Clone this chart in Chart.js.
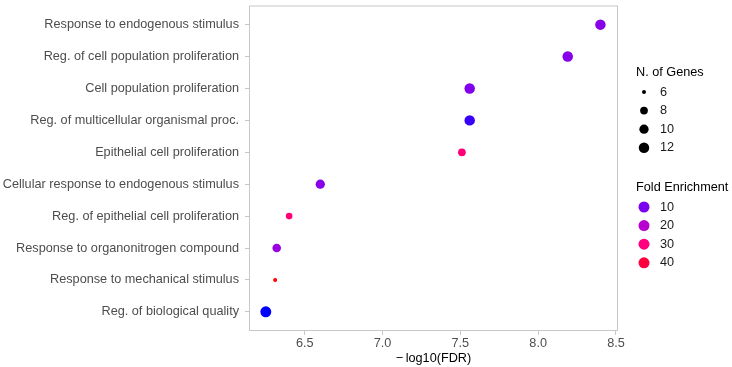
<!DOCTYPE html>
<html>
<head>
<meta charset="utf-8">
<script src="https://cdn.jsdelivr.net/npm/chart.js@4/dist/chart.umd.min.js"></script>
<style>
  html, body { margin: 0; padding: 0; background: #fff; }
  #wrap { width: 732px; height: 367px; }
</style>
</head>
<body>
<div id="wrap"><canvas id="chart" width="732" height="367"></canvas></div>
<script>
// GO terms, top to bottom
const terms = [
    "Response to endogenous stimulus",
    "Reg. of cell population proliferation",
    "Cell population proliferation",
    "Reg. of multicellular organismal proc.",
    "Epithelial cell proliferation",
    "Cellular response to endogenous stimulus",
    "Reg. of epithelial cell proliferation",
    "Response to organonitrogen compound",
    "Response to mechanical stimulus",
    "Reg. of biological quality"
];
const negLogFdr = [8.40, 8.19, 7.56, 7.56, 7.51, 6.60, 6.40, 6.32, 6.31, 6.25];
const nGenes = [12, 12, 12, 12, 8, 10, 7, 9, 6, 13];
const foldEnrichment = [12, 12, 11, 6, 31, 12, 31, 15, 44, 2.5];

const xTicks = [6.5, 7.0, 7.5, 8.0, 8.5];
const sizeLegend = [6, 8, 10, 12];
const colorLegend = [10, 20, 30, 40];

const FONT = "'Liberation Sans', Arial, sans-serif";
const FSIZE = 12.7;

// colour ramp blue -> violet -> pink -> red (position 0..1)
const rampStops = [
    [0, [0, 0, 255]],
    [0.18, [122, 0, 240]],
    [0.42, [184, 0, 208]],
    [0.66, [255, 0, 128]],
    [0.9, [255, 0, 64]],
    [1, [255, 0, 0]]
];
const feMin = Math.min(...foldEnrichment);
const feMax = Math.max(...foldEnrichment);
function feColor(v) {
    const t = Math.min(1, Math.max(0, (v - feMin) / (feMax - feMin)));
    let k = 1;
    while (k < rampStops.length - 1 && rampStops[k][0] < t) k++;
    const [t0, c0] = rampStops[k - 1];
    const [t1, c1] = rampStops[k];
    const f = (t - t0) / (t1 - t0);
    return "rgb(" + c0.map((c, i) => Math.round(c + (c1[i] - c) * f)).join(",") + ")";
}

const gMin = Math.min(...nGenes);
const gMax = Math.max(...nGenes);
function geneRadius(n) {
    return 2 + 3.5 * Math.sqrt((n - gMin) / (gMax - gMin));
}

const points = terms.map((t, i) => ({
    x: negLogFdr[i],
    y: i + 1,
    genes: nGenes[i],
    fe: foldEnrichment[i]
}));

const panelAndLegend = {
    id: "panelAndLegend",
    afterDatasetsDraw(chart) {
        const { ctx, chartArea } = chart;
        ctx.save();
        ctx.strokeStyle = "#c8c8c8";
        ctx.lineWidth = 1;
        ctx.strokeRect(chartArea.left + 0.5, chartArea.top + 0.5,
            chartArea.right - chartArea.left - 1, chartArea.bottom - chartArea.top - 1);

        ctx.textBaseline = "middle";
        ctx.textAlign = "left";
        ctx.fillStyle = "#000";
        ctx.font = FSIZE + "px " + FONT;
        ctx.fillText("N. of Genes", 636, 72);
        sizeLegend.forEach((n, i) => {
            const y = 92 + i * 18.6;
            ctx.fillStyle = "#000";
            ctx.beginPath();
            ctx.arc(644, y, geneRadius(n), 0, Math.PI * 2);
            ctx.fill();
            ctx.fillStyle = "#1a1a1a";
            ctx.fillText(String(n), 660, y);
        });

        ctx.fillStyle = "#000";
        ctx.fillText("Fold Enrichment", 636, 187);
        colorLegend.forEach((v, i) => {
            const y = 207 + i * 18.6;
            ctx.fillStyle = feColor(v);
            ctx.beginPath();
            ctx.arc(644, y, 5.5, 0, Math.PI * 2);
            ctx.fill();
            ctx.fillStyle = "#1a1a1a";
            ctx.fillText(String(v), 660, y);
        });
        ctx.restore();
    }
};

new Chart(document.getElementById("chart"), {
    type: "scatter",
    data: {
        datasets: [{
            data: points,
            pointRadius: c => geneRadius(c.raw.genes),
            pointHoverRadius: c => geneRadius(c.raw.genes),
            pointBackgroundColor: c => feColor(c.raw.fe),
            pointBorderWidth: 0,
            pointBorderColor: "rgba(0,0,0,0)"
        }]
    },
    options: {
        responsive: false,
        animation: false,
        layout: { padding: { top: 4, right: 114, left: 0, bottom: 0 } },
        plugins: { legend: { display: false }, tooltip: { enabled: false } },
        scales: {
            x: {
                type: "linear",
                min: 6.142,
                max: 8.513,
                afterBuildTicks: s => { s.ticks = xTicks.map(v => ({ value: v })); },
                afterFit: s => { s.height = 36; s.paddingLeft = 0; s.paddingRight = 0; },
                grid: { drawOnChartArea: false, drawTicks: true, tickLength: 4, color: "#c8c8c8" },
                border: { display: false },
                ticks: {
                    padding: 1,
                    color: "#4d4d4d",
                    font: { family: FONT, size: FSIZE },
                    callback: v => v.toFixed(1)
                },
                title: {
                    display: true,
                    text: "\u2212\u2009log10(FDR)",
                    color: "#000",
                    font: { family: FONT, size: FSIZE },
                    padding: { top: 0, bottom: 1 }
                }
            },
            y: {
                type: "linear",
                reverse: true,
                min: 0.4,
                max: 10.6,
                afterBuildTicks: s => { s.ticks = terms.map((t, i) => ({ value: i + 1 })); },
                afterFit: s => { s.width = 249; s.paddingTop = 0; s.paddingBottom = 0; },
                grid: { drawOnChartArea: false, drawTicks: true, tickLength: 4, color: "#c8c8c8" },
                border: { display: false },
                ticks: {
                    padding: 6,
                    color: "#4d4d4d",
                    font: { family: FONT, size: FSIZE },
                    callback: v => terms[Math.round(v) - 1]
                }
            }
        }
    },
    plugins: [panelAndLegend]
});
</script>
</body>
</html>
